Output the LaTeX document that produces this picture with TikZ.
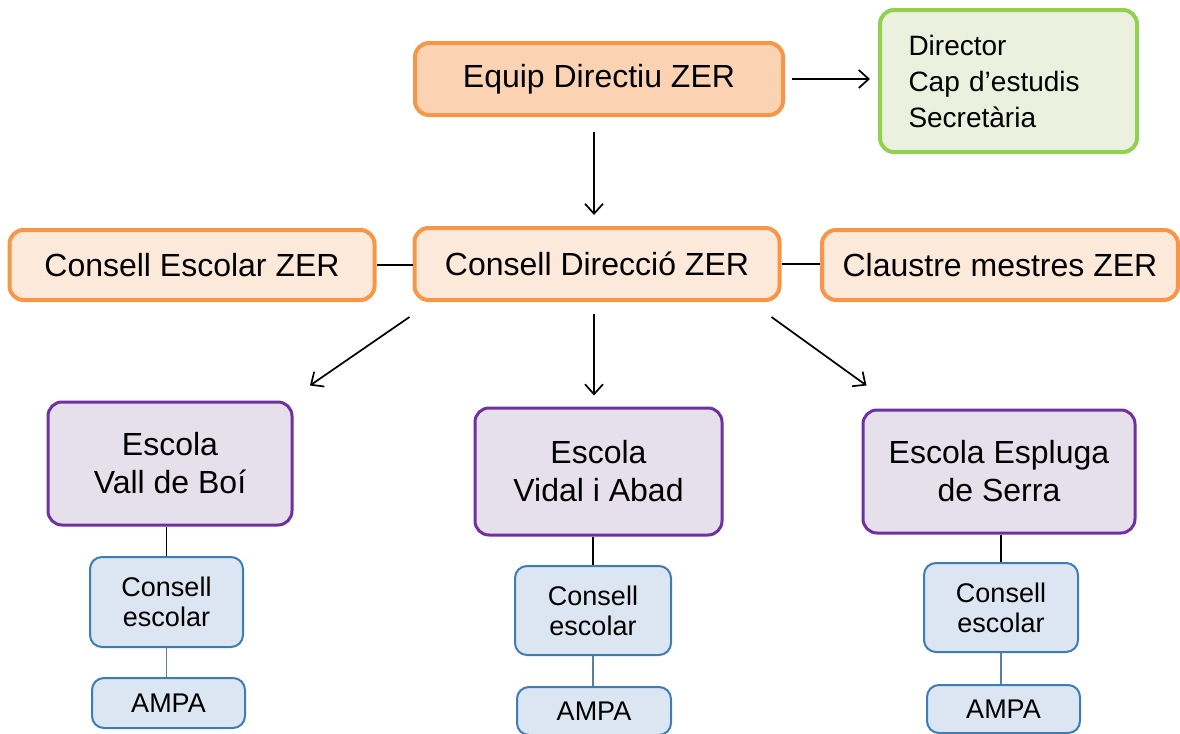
\documentclass[tikz,border=0pt]{standalone}
\usepackage{fontspec}
\setmainfont{Liberation Sans}
\usetikzlibrary{arrows.meta,calc}
\definecolor{orbd}{HTML}{F79646}
\definecolor{orfillA}{HTML}{FBD2B2}
\definecolor{orfillB}{HTML}{FDE9D9}
\definecolor{grbd}{HTML}{92D050}
\definecolor{grfill}{HTML}{EBF1DE}
\definecolor{pubd}{HTML}{7030A0}
\definecolor{pufill}{HTML}{E5E0EC}
\definecolor{blbd}{HTML}{3C7DB4}
\definecolor{blfill}{HTML}{DCE6F2}
\definecolor{blline}{HTML}{5A7FA0}
\tikzset{
  box/.style={rounded corners=7pt, inner sep=0pt, align=center, text=black},
  orbox/.style={box, draw=orbd, line width=2pt, fill=orfillB, font=\fontsize{16}{19}\selectfont},
  grbox/.style={box, draw=grbd, line width=2pt, fill=grfill, align=left, font=\fontsize{14}{18}\selectfont},
  pubox/.style={box, draw=pubd, line width=1.5pt, fill=pufill, font=\fontsize{16}{19}\selectfont},
  blbox/.style={box, draw=blbd, line width=1pt, fill=blfill, rounded corners=6pt, font=\fontsize{13.5}{15}\selectfont},
  arr/.style={line width=0.85pt, -{Straight Barb[length=5pt,width=9pt,line width=0.85pt]}},
  conn/.style={line width=0.85pt},
  bconn/.style={line width=0.85pt, draw=blline}
}
\begin{document}
\begin{tikzpicture}[x=0.5pt,y=-0.5pt]
\useasboundingbox (0,0) rectangle (1180,734);
% top
\node[orbox, fill=orfillA, minimum width=184pt, minimum height=36pt] (equip) at (599,79) {Equip Directiu ZER};
\node[grbox, minimum width=128.5pt, minimum height=71pt, text width=100pt] (green) at (1008.5,81) {Director\\Cap d’estudis\\Secretària};
% second row
\node[orbox, minimum width=182.5pt, minimum height=35pt] (ces) at (192,265) {Consell Escolar ZER};
\node[orbox, minimum width=182.5pt, minimum height=36pt] (cdir) at (597,264) {Consell Direcció ZER};
\node[orbox, minimum width=178pt, minimum height=35pt] (claus) at (1000,265) {Claustre mestres ZER};
% schools
\node[pubox, minimum width=122pt, minimum height=61.5pt] (sch1) at (170,463.5) {Escola\\Vall de Boí};
\node[pubox, minimum width=123.5pt, minimum height=63.5pt] (sch2) at (598.5,471.5) {Escola\\Vidal i Abad};
\node[pubox, minimum width=136pt, minimum height=61.5pt] (sch3) at (999,471.5) {Escola Espluga\\de Serra};
% consells
\node[blbox, minimum width=76.5pt, minimum height=45pt] (cons1) at (166.5,602) {Consell\\escolar};
\node[blbox, minimum width=78pt, minimum height=44.5pt] (cons2) at (593,610.5) {Consell\\escolar};
\node[blbox, minimum width=77pt, minimum height=44.5pt] (cons3) at (1001,607.5) {Consell\\escolar};
% ampa
\node[blbox, minimum width=76.5pt, minimum height=25pt] (ampa1) at (168.5,703) {AMPA};
\node[blbox, minimum width=77pt, minimum height=24pt] (ampa2) at (594,711) {AMPA};
\node[blbox, minimum width=76.5pt, minimum height=24pt] (ampa3) at (1003.5,709) {AMPA};
% connectors
\draw[arr, shorten <=3.5pt, shorten >=4pt] (equip.east) -- (green.west |- equip.east);
\draw[arr, shorten <=7.5pt, shorten >=5.5pt] ($(equip.south)+(-5,0)$) -- ($(cdir.north)+(-3,0)$);
\draw[conn] (ces.east) -- (cdir.west |- ces.east);
\draw[conn] (cdir.east) -- (claus.west |- cdir.east);
\draw[arr] ($(cdir.south west)+(-3,15)$) -- ($(sch1.north)+(140,-15)$);
\draw[arr, shorten <=6pt, shorten >=5.5pt] ($(cdir.south)+(-3,0)$) -- ($(sch2.north)+(-4.5,0)$);
\draw[arr] ($(cdir.south east)+(-10,15)$) -- ($(sch3.north west)+(5,-23)$);
\draw[conn] (cons1.north |- sch1.south) -- (cons1.north);
\draw[conn] (cons2.north |- sch2.south) -- (cons2.north);
\draw[conn] (cons3.north |- sch3.south) -- (cons3.north);
\draw[bconn] (cons1.south) -- (cons1.south |- ampa1.north);
\draw[bconn] (cons2.south) -- (cons2.south |- ampa2.north);
\draw[bconn] (cons3.south) -- (cons3.south |- ampa3.north);
\end{tikzpicture}
\end{document}
